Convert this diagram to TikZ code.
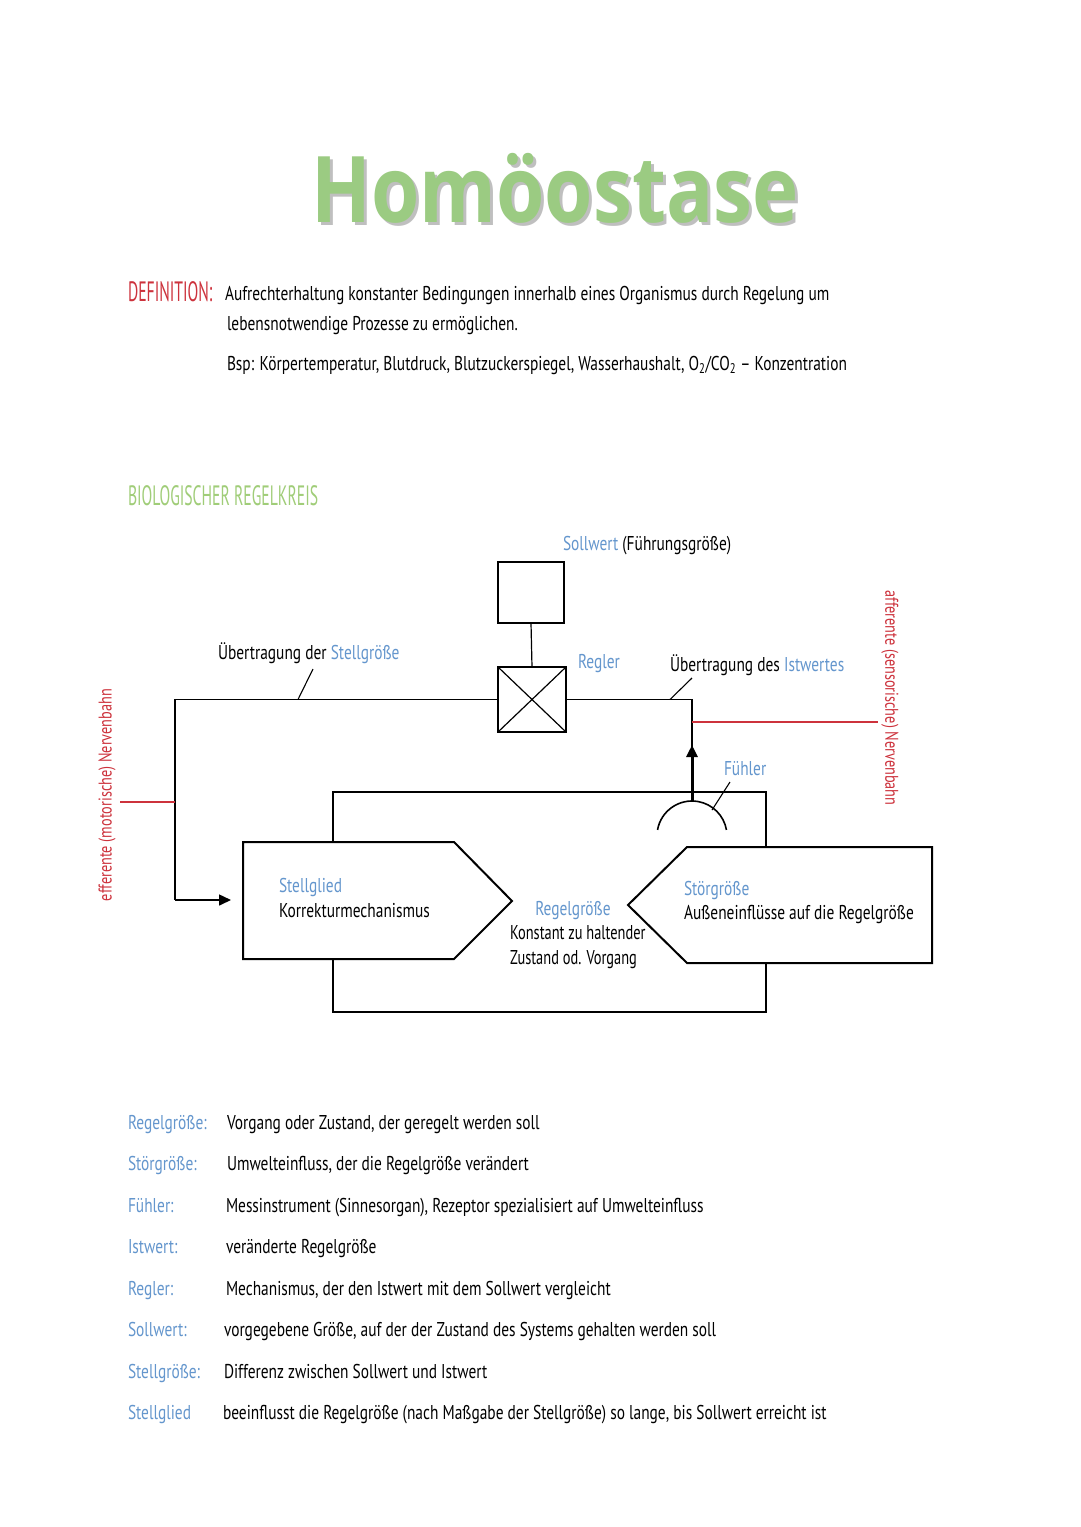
\documentclass[tikz,border=0pt]{standalone}
\usepackage{fontspec}
\setmainfont{PT Sans}
\newfontfamily\hand[FakeStretch=0.77]{PT Sans}
\newfontfamily\handn[FakeStretch=0.72]{PT Sans}
\newfontfamily\capsf[FakeStretch=0.56]{PT Sans}
\newfontfamily\titlef[FakeStretch=0.85]{Open Sans}
\usetikzlibrary{arrows.meta}
\definecolor{tgreen}{RGB}{155,203,130}
\definecolor{hgreen}{RGB}{160,205,120}
\definecolor{lblue}{RGB}{100,150,205}
\definecolor{nred}{RGB}{205,50,60}
\begin{document}
\begin{tikzpicture}[x=1pt,y=-1pt,
  every node/.style={inner sep=0pt, outer sep=0pt},
  txt/.style={font=\hand\fontsize{20}{24}\selectfont, anchor=base west, text=black},
  ntxt/.style={font=\handn\fontsize{20}{24}\selectfont, anchor=base west, text=black},
  bl/.style={text=lblue},
  headtxt/.style={font=\capsf\fontsize{28}{30}\selectfont, anchor=base west},
  vtxt/.style={font=\hand\fontsize{18.5}{22}\selectfont, text=nred},
  boxthick/.style={draw, line width=2.5pt},
  shapeline/.style={line width=2pt, line join=miter},
  conn/.style={line width=1.2pt},
  leader/.style={line width=1.1pt},
  redline/.style={draw=nred, line width=1.1pt},
  bigarrow/.style={line width=3pt, -{Triangle[length=12pt,width=11pt]}},
  smallarrow/.style={line width=1.6pt, -{Triangle[length=12pt,width=11pt]}}
]
\useasboundingbox (0,0) rectangle (1080,1527);
\fill[white] (0,0) rectangle (1080,1527);

% Title
\node[anchor=base, font=\titlef\bfseries\fontsize{92}{100}\selectfont, text=black, opacity=0.25] (titleshadow) at (558,225) {Homöostase};
\node[anchor=base, font=\titlef\bfseries\fontsize{92}{100}\selectfont, text=tgreen] (title) at (555,222) {Homöostase};

% Definition
\node[headtxt, text=nred] (defhead) at (128,301) {DEFINITION:};
\node[txt] (d1) at (225,300) {Aufrechterhaltung konstanter Bedingungen innerhalb eines Organismus durch Regelung um};
\node[txt] (d2) at (227,330) {lebensnotwendige Prozesse zu ermöglichen.};
\node[txt] (d3) at (227,370) {Bsp: Körpertemperatur, Blutdruck, Blutzuckerspiegel, Wasserhaushalt, O\textsubscript{2}/CO\textsubscript{2} – Konzentration};

\node[headtxt, text=hgreen] (bioh) at (128,505) {BIOLOGISCHER REGELKREIS};

% Sollwert and Regler
\node[txt] (sollt) at (563,550) {\color{lblue}Sollwert \color{black}(Führungsgröße)};
\node[boxthick, minimum width=66pt, minimum height=61pt] (soll) at (531,592.5) {};
\node[boxthick, minimum width=68pt, minimum height=65pt] (regler) at (532,699.5) {};
\draw[line width=1.2pt] (regler.north west) -- (regler.south east) (regler.north east) -- (regler.south west);
\draw[conn] (soll.south) -- (regler.north);
\node[txt, bl] (reglert) at (578,668) {Regler};

% left connection
\coordinate (lcorner) at (175,699.5);
\coordinate (arrowend) at (231,900);
\draw[conn] (regler.west) -- (lcorner) -- (lcorner |- arrowend);
\draw[smallarrow] (lcorner |- arrowend) -- (arrowend);
\node[txt] (uebst) at (218,659) {Übertragung der \textcolor{lblue}{Stellgröße}};
\coordinate (l1a) at (298,699.5);
\coordinate (l1b) at (313,669);
\draw[leader] (l1a) -- (l1b);

% red efferent
\coordinate (effa) at (175,802);
\coordinate (effb) at (120,802);
\draw[redline] (effa) -- (effb);
\node[vtxt, rotate=90] (efft) at (107,795) {efferente (motorische) Nervenbahn};

% right connection
\coordinate (rcorner) at (692,699.5);
\coordinate (fc) at (692,836);
\coordinate (ftop) at (692,801);
\coordinate (atip) at (692,745);
\draw[conn] (regler.east) -- (rcorner) -- (692,757);
\draw[bigarrow] (ftop) -- (atip);
\draw[line width=1.6pt] ([shift={(190:35)}]fc) arc[start angle=190, end angle=350, radius=35];
\node[txt] (uebist) at (670,671) {Übertragung des \textcolor{lblue}{Istwertes}};
\draw[leader] (670,699.5) -- (692,678);
\node[txt, bl] (fuehlert) at (724,775) {Fühler};
\draw[leader] (712,810) -- (730,782);

% red afferent
\coordinate (affa) at (692,722);
\coordinate (affb) at (878,722);
\draw[redline] (affa) -- (affb);
\node[vtxt, rotate=-90] (afft) at (890,698) {afferente (sensorische) Nervenbahn};

% Stellglied pentagon
\coordinate (s1) at (243,842);
\coordinate (s2) at (454,842);
\coordinate (s3) at (512,901);
\coordinate (s4) at (454,959);
\coordinate (s5) at (243,959);
\draw[shapeline] (s1) -- (s2) -- (s3) -- (s4) -- (s5) -- cycle;
\node[txt, bl] (stgt) at (279,892) {Stellglied};
\node[txt] (stgk) at (279,917) {Korrekturmechanismus};

% Stoergroesse pentagon
\coordinate (t1) at (628,905);
\coordinate (t2) at (687,847);
\coordinate (t3) at (932,847);
\coordinate (t4) at (932,963);
\coordinate (t5) at (687,963);
\draw[shapeline] (t1) -- (t2) -- (t3) -- (t4) -- (t5) -- cycle;
\node[txt, bl] (stoert) at (684,895) {Störgröße};
\node[txt] (stoerk) at (684,919) {Außeneinflüsse auf die Regelgröße};

% Regelgroesse
\node[txt, bl, anchor=base] (regt) at (573,915) {Regelgröße};
\node[ntxt] (reg1) at (510,939) {Konstant zu haltender};
\node[ntxt] (reg2) at (510,964) {Zustand od. Vorgang};

% loop
\draw[shapeline] (333,842) -- (333,792) -- (766,792) -- (766,847);
\draw[shapeline] (333,959) -- (333,1012) -- (766,1012) -- (766,963);

% Glossary
\node[txt, bl] (g1) at (128,1129) {Regelgröße:};
\node[txt] (g1d) at (227,1129) {Vorgang oder Zustand, der geregelt werden soll};
\node[txt, bl] (g2) at (128,1170) {Störgröße:};
\node[txt] (g2d) at (227,1170) {Umwelteinfluss, der die Regelgröße verändert};
\node[txt, bl] (g3) at (128,1212) {Fühler:};
\node[txt] (g3d) at (226,1212) {Messinstrument (Sinnesorgan), Rezeptor spezialisiert auf Umwelteinfluss};
\node[txt, bl] (g4) at (128,1253) {Istwert:};
\node[txt] (g4d) at (226,1253) {veränderte Regelgröße};
\node[txt, bl] (g5) at (128,1295) {Regler:};
\node[txt] (g5d) at (226,1295) {Mechanismus, der den Istwert mit dem Sollwert vergleicht};
\node[txt, bl] (g6) at (128,1336) {Sollwert:};
\node[txt] (g6d) at (224,1336) {vorgegebene Größe, auf der der Zustand des Systems gehalten werden soll};
\node[txt, bl] (g7) at (128,1378) {Stellgröße:};
\node[txt] (g7d) at (224,1378) {Differenz zwischen Sollwert und Istwert};
\node[txt, bl] (g8) at (128,1419) {Stellglied};
\node[txt] (g8d) at (223,1419) {beeinflusst die Regelgröße (nach Maßgabe der Stellgröße) so lange, bis Sollwert erreicht ist};
\end{tikzpicture}
\end{document}
